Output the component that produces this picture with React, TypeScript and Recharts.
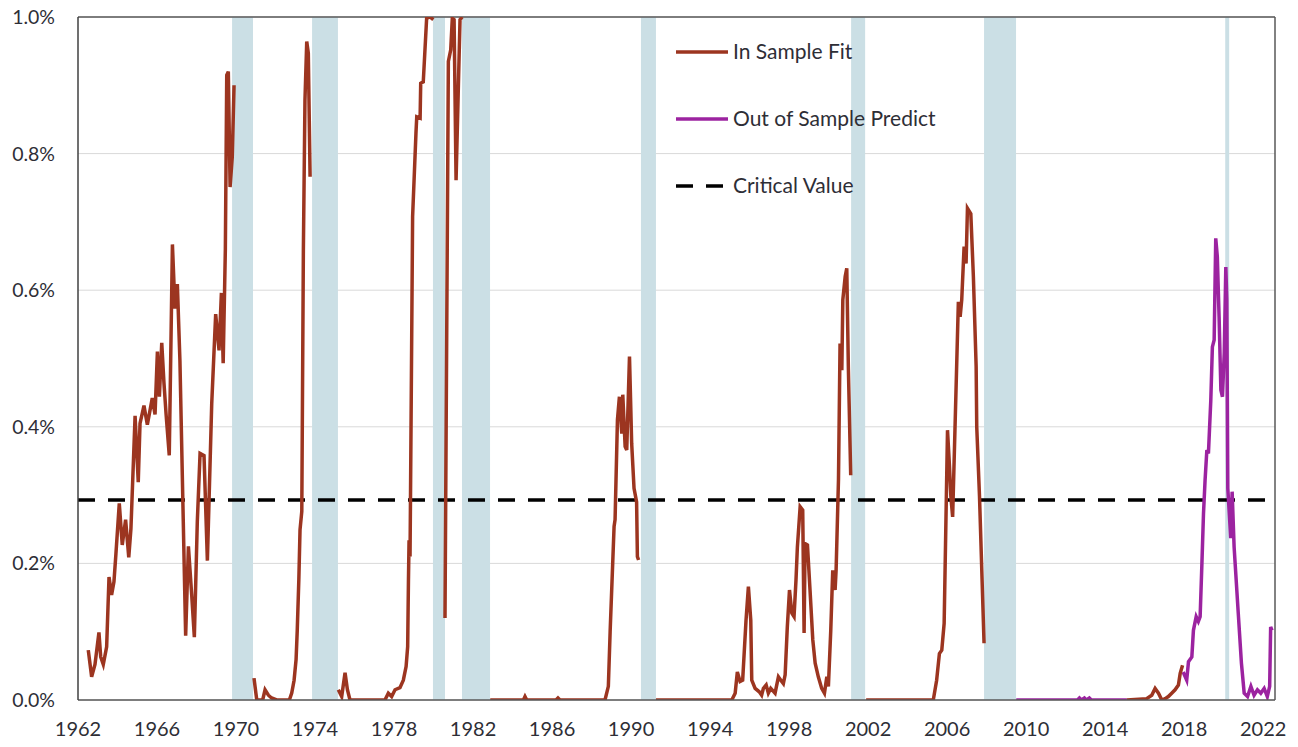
import React from "react";
import {
    LineChart, Line, XAxis, YAxis, CartesianGrid,
    ReferenceArea, ReferenceLine,
} from "recharts";

type Pt = [number, number | null];

const YEAR_TICKS = [1962, 1966, 1970, 1974, 1978, 1982, 1986, 1990, 1994, 1998, 2002, 2006, 2010, 2014, 2018, 2022];
const PCT_TICKS = [0, 0.2, 0.4, 0.6, 0.8, 1.0];
const CRITICAL_VALUE = 0.293;

// NBER recessions (start, end) in fractional years
const RECESSIONS: [number, number][] = [
    [1969.8, 1970.86], [1973.85, 1975.16], [1979.97, 1980.58], [1981.44, 1982.86],
    [1990.5, 1991.26], [2001.14, 2001.85], [2007.87, 2009.49], [2020.08, 2020.28],
];

// in-sample fit, % ; null = gap
const IN_SAMPLE: Pt[] = [
    [1962.52, 0.073], [1962.69, 0.034], [1962.86, 0.052], [1963.06, 0.099], [1963.15, 0.063],
    [1963.28, 0.052], [1963.45, 0.078], [1963.57, 0.18], [1963.70, 0.154], [1963.82, 0.173],
    [1963.92, 0.214], [1964.09, 0.288], [1964.24, 0.227], [1964.41, 0.264], [1964.57, 0.209],
    [1964.68, 0.251], [1964.89, 0.416], [1965.05, 0.319], [1965.14, 0.405], [1965.34, 0.431],
    [1965.51, 0.403], [1965.76, 0.442], [1965.90, 0.418], [1966.02, 0.51], [1966.12, 0.444],
    [1966.24, 0.523], [1966.35, 0.465], [1966.46, 0.418], [1966.62, 0.358], [1966.78, 0.667],
    [1966.91, 0.573], [1967.03, 0.609], [1967.16, 0.497], [1967.33, 0.261], [1967.45, 0.094],
    [1967.59, 0.225], [1967.76, 0.152], [1967.89, 0.092], [1968.04, 0.261], [1968.18, 0.361],
    [1968.38, 0.358], [1968.55, 0.204], [1968.77, 0.434], [1968.97, 0.565], [1969.14, 0.512],
    [1969.26, 0.596], [1969.35, 0.493], [1969.46, 0.66], [1969.53, 0.915], [1969.61, 0.92],
    [1969.70, 0.751], [1969.81, 0.795], [1969.90, 0.90],
    [1970.4, null],
    [1970.91, 0.032], [1971.05, 0], [1971.35, 0], [1971.47, 0.015], [1971.64, 0.007],
    [1971.8, 0.003], [1972.06, 0], [1972.7, 0], [1972.82, 0.01], [1972.94, 0.029],
    [1973.04, 0.059], [1973.1, 0.102], [1973.18, 0.176], [1973.24, 0.249], [1973.33, 0.276],
    [1973.41, 0.66], [1973.49, 0.878], [1973.58, 0.964], [1973.66, 0.947], [1973.75, 0.766],
    [1974.5, null],
    [1975.18, 0.015], [1975.35, 0.005], [1975.52, 0.04], [1975.64, 0.015], [1975.77, 0],
    [1977.54, 0], [1977.71, 0.01], [1977.88, 0.005], [1978.05, 0.015], [1978.3, 0.018],
    [1978.47, 0.029], [1978.61, 0.049], [1978.69, 0.078], [1978.73, 0.176], [1978.76, 0.234],
    [1978.81, 0.21], [1978.84, 0.322], [1978.94, 0.708], [1979.11, 0.83], [1979.15, 0.854],
    [1979.32, 0.852], [1979.35, 0.903], [1979.48, 0.905], [1979.65, 0.998], [1979.82, 1.0],
    [1979.99, 0.996],
    [1980.3, null],
    [1980.58, 0.12], [1980.75, 0.935], [1980.87, 0.952], [1980.95, 0.998], [1981.04, 0.996],
    [1981.14, 0.761], [1981.34, 0.996], [1981.45, 1.0],
    [1982.2, null],
    [1982.87, 0], [1984.55, 0], [1984.63, 0.005], [1984.72, 0], [1986.2, 0], [1986.3, 0.003],
    [1986.4, 0], [1988.68, 0], [1988.85, 0.02], [1988.94, 0.1], [1989.07, 0.2], [1989.14, 0.254],
    [1989.19, 0.264], [1989.31, 0.41], [1989.41, 0.444], [1989.53, 0.39], [1989.58, 0.447],
    [1989.70, 0.371], [1989.78, 0.366], [1989.92, 0.503], [1990.03, 0.376], [1990.15, 0.31],
    [1990.28, 0.29], [1990.32, 0.21], [1990.38, 0.205],
    [1990.9, null],
    [1991.26, 0], [1995.1, 0], [1995.27, 0.01], [1995.38, 0.041], [1995.52, 0.027],
    [1995.65, 0.029], [1995.82, 0.117], [1995.94, 0.166], [1996.06, 0.117], [1996.11, 0.029],
    [1996.28, 0.017], [1996.49, 0.012], [1996.61, 0.007], [1996.7, 0.017], [1996.84, 0.022],
    [1996.95, 0.01], [1997.07, 0.017], [1997.29, 0.01], [1997.46, 0.034], [1997.58, 0.029],
    [1997.71, 0.024], [1997.8, 0.037], [1997.91, 0.107], [1998.02, 0.161], [1998.14, 0.127],
    [1998.25, 0.122], [1998.35, 0.176], [1998.42, 0.224], [1998.56, 0.283], [1998.69, 0.278],
    [1998.76, 0.098], [1998.81, 0.229], [1998.93, 0.227], [1999.06, 0.161], [1999.2, 0.088],
    [1999.32, 0.054], [1999.48, 0.034], [1999.65, 0.017], [1999.79, 0.01], [1999.91, 0.034],
    [1999.99, 0.02], [2000.11, 0.102], [2000.21, 0.19], [2000.33, 0.161], [2000.38, 0.19],
    [2000.5, 0.322], [2000.58, 0.522], [2000.67, 0.483], [2000.72, 0.586], [2000.84, 0.62],
    [2000.92, 0.632], [2001.0, 0.488], [2001.12, 0.329],
    [2001.5, null],
    [2001.9, 0], [2005.3, 0], [2005.47, 0.029], [2005.61, 0.068], [2005.73, 0.073],
    [2005.85, 0.112], [2006.02, 0.395], [2006.12, 0.342], [2006.19, 0.298], [2006.28, 0.268],
    [2006.57, 0.583], [2006.66, 0.561], [2006.74, 0.586], [2006.86, 0.664], [2006.96, 0.639],
    [2007.03, 0.72], [2007.2, 0.712], [2007.33, 0.62], [2007.47, 0.488], [2007.5, 0.40],
    [2007.64, 0.298], [2007.87, 0.083],
    [2012.0, null],
    [2015.1, 0], [2016.1, 0.002], [2016.36, 0.007], [2016.53, 0.017], [2016.7, 0.01],
    [2016.87, 0], [2017.04, 0.002], [2017.2, 0.005], [2017.37, 0.01], [2017.54, 0.015],
    [2017.71, 0.022], [2017.8, 0.039], [2017.92, 0.051],
];

// out-of-sample prediction, %
const OUT_SAMPLE: Pt[] = [
    [2009.5, 0], [2012.6, 0], [2012.7, 0.003], [2012.8, 0], [2012.95, 0.003], [2013.05, 0],
    [2013.2, 0.003], [2013.3, 0], [2015.1, 0],
    [2016.5, null],
    [2017.95, 0.041], [2018.13, 0.029], [2018.22, 0.056], [2018.39, 0.063], [2018.47, 0.102],
    [2018.61, 0.122], [2018.72, 0.115], [2018.81, 0.122], [2018.9, 0.2], [2018.98, 0.273],
    [2019.06, 0.322], [2019.15, 0.366], [2019.23, 0.361], [2019.35, 0.439], [2019.43, 0.517],
    [2019.52, 0.527], [2019.6, 0.676], [2019.68, 0.649], [2019.77, 0.561], [2019.86, 0.454],
    [2019.94, 0.444], [2020.03, 0.508], [2020.11, 0.634], [2020.16, 0.586], [2020.21, 0.31],
    [2020.36, 0.237], [2020.43, 0.305], [2020.53, 0.224], [2020.74, 0.127], [2020.9, 0.054],
    [2021.04, 0.01], [2021.21, 0.005], [2021.38, 0.02], [2021.54, 0.007], [2021.71, 0.015],
    [2021.88, 0.01], [2022.05, 0.017], [2022.21, 0.005], [2022.33, 0.02], [2022.38, 0.107],
    [2022.45, 0.102],
];

const RED = "#9c3520";
const PURPLE = "#9c23a0";
const FONT = "Lato, 'Open Sans', sans-serif";

const toRows = (pts: Pt[]) => pts.map(([x, y]) => ({ x, y }));

function LegendBox() {
    const rows = [
        { label: "In Sample Fit", color: RED, dash: undefined as string | undefined },
        { label: "Out of Sample Predict", color: PURPLE, dash: undefined },
        { label: "Critical Value", color: "#000", dash: "17 13" },
    ];
    return (
        <svg width={320} height={180} style={{ position: "absolute", left: 676, top: 35 }}>
            {rows.map((r, i) => (
                <g key={r.label} transform={`translate(0, ${17 + i * 67})`}>
                    <line x1={0} x2={52} y1={0} y2={0} stroke={r.color} strokeWidth={3.5} strokeDasharray={r.dash} />
                    <text x={57} y={0} dy="0.35em" fontSize={21} fontFamily={FONT} fill="#2e2e36">{r.label}</text>
                </g>
            ))}
        </svg>
    );
}

export default function App() {
    return (
        <div style={{ position: "fixed", left: 0, top: 0, width: 1298, height: 747, background: "#fff" }}>
            <LineChart width={1298} height={747} margin={{ top: 17, right: 23, left: 0, bottom: 0 }}>
                <CartesianGrid vertical={false} stroke="#d9d9d9" strokeWidth={1} />
                {RECESSIONS.map(([a, b]) => (
                    <ReferenceArea key={a} x1={a} x2={b} y1={0} y2={1} fill="#cbdfe5" fillOpacity={1} stroke="none" />
                ))}
                <XAxis
                    type="number"
                    dataKey="x"
                    domain={[1962, 2022.6]}
                    ticks={YEAR_TICKS}
                    allowDataOverflow
                    height={47}
                    tickLine={false}
                    tickSize={0}
                    tickMargin={22}
                    axisLine={{ stroke: "#595959", strokeWidth: 1.5 }}
                    tick={{ fill: "#2e2e36", fontSize: 20, fontFamily: FONT }}
                />
                <YAxis
                    type="number"
                    domain={[0, 1]}
                    ticks={PCT_TICKS}
                    allowDataOverflow
                    width={78}
                    tickLine={false}
                    tickSize={0}
                    tickMargin={23}
                    axisLine={{ stroke: "#404040", strokeWidth: 1.5 }}
                    tickFormatter={(v: number) => `${v.toFixed(1)}%`}
                    tick={{ fill: "#2e2e36", fontSize: 19.5, fontFamily: FONT }}
                />
                <ReferenceLine y={1} stroke="#595959" strokeWidth={1.5} />
                <ReferenceLine x={2022.6} stroke="#595959" strokeWidth={1.5} />
                <ReferenceLine y={CRITICAL_VALUE} stroke="#000" strokeWidth={3.5} strokeDasharray="17 13" />
                <Line
                    data={toRows(OUT_SAMPLE)}
                    dataKey="y"
                    name="Out of Sample Predict"
                    stroke={PURPLE}
                    strokeWidth={3.5}
                    dot={false}
                    isAnimationActive={false}
                />
                <Line
                    data={toRows(IN_SAMPLE)}
                    dataKey="y"
                    name="In Sample Fit"
                    stroke={RED}
                    strokeWidth={3.5}
                    dot={false}
                    isAnimationActive={false}
                />
            </LineChart>
            <LegendBox />
        </div>
    );
}
